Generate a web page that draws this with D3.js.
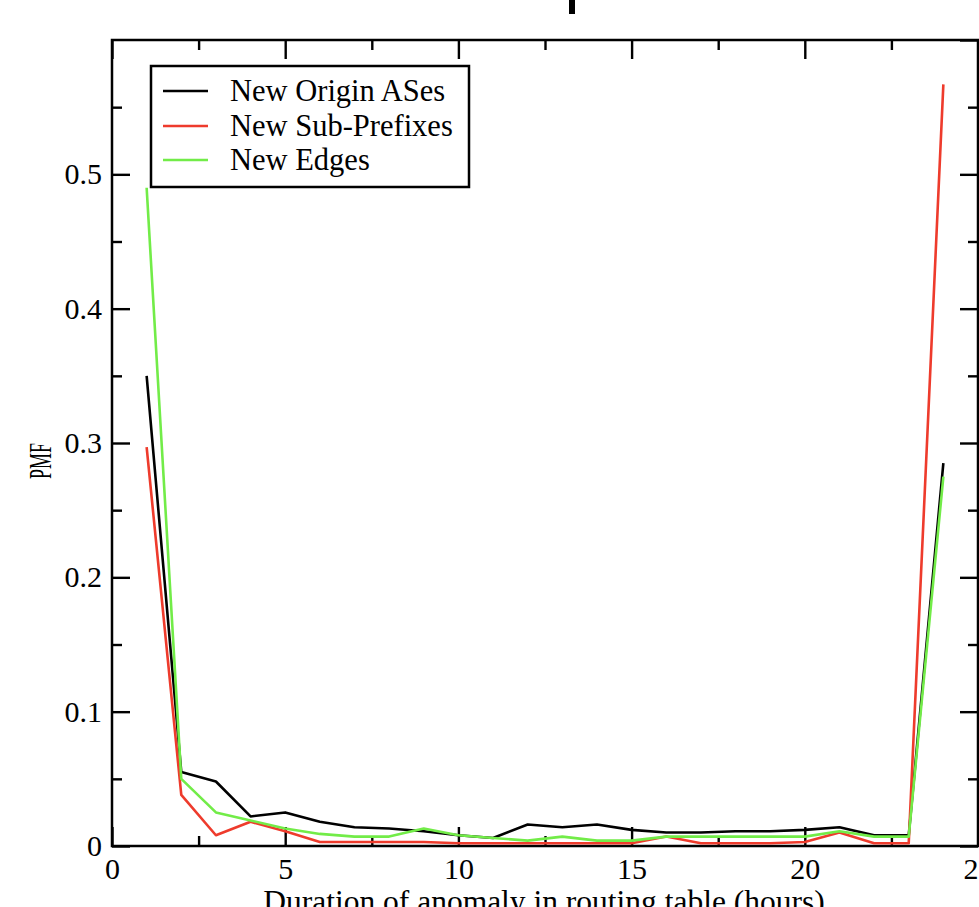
<!DOCTYPE html>
<html>
<head>
<meta charset="utf-8">
<script src="https://cdn.jsdelivr.net/npm/d3@7"></script>
<style>
body{margin:0;background:#fff;}
svg{display:block;}
text{font-family:"Liberation Serif","Times New Roman",serif;fill:#000;}
</style>
</head>
<body>
<div id="chart"></div>
<script>
// hours 1..24
var hours=[1,2,3,4,5,6,7,8,9,10,11,12,13,14,15,16,17,18,19,20,21,22,23,24];
var originASes=[0.350,0.055,0.048,0.022,0.025,0.018,0.014,0.013,0.011,0.008,0.006,0.016,0.014,0.016,0.012,0.010,0.010,0.011,0.011,0.012,0.014,0.008,0.008,0.285];
var subPrefixes=[0.297,0.038,0.008,0.018,0.011,0.003,0.003,0.003,0.003,0.002,0.002,0.002,0.002,0.002,0.002,0.007,0.002,0.002,0.002,0.003,0.010,0.002,0.002,0.567];
var newEdges=[0.490,0.050,0.025,0.019,0.013,0.009,0.007,0.007,0.013,0.008,0.006,0.004,0.007,0.004,0.004,0.007,0.007,0.007,0.007,0.007,0.011,0.007,0.007,0.275];
var seriesNames=['New Origin ASes','New Sub-Prefixes','New Edges'];
var seriesColors=['#000000','#ee3b2c','#72ec48'];
var xMajor=[0,5,10,15,20,25];
var xMinor=[2.5,7.5,12.5,17.5,22.5];
var yMajor=[0,0.1,0.2,0.3,0.4,0.5,0.6];
var yMinor=[0.05,0.15,0.25,0.35,0.45,0.55];

var width=979,height=907;
var plotLeft=112,plotRight=978,plotTop=40,plotBottom=846;

var svg=d3.select('#chart').append('svg')
    .attr('width',width)
    .attr('height',height);

var x=d3.scaleLinear().domain([0,25]).range([plotLeft,plotRight]);
var y=d3.scaleLinear().domain([0,0.6]).range([plotBottom,plotTop]);

// piece of a cut-off title above the plot
svg.append('rect')
    .attr('x',569).attr('y',0)
    .attr('width',6).attr('height',14)
    .style('fill','#000');

function styleAxis(g){
    g.select('.domain').remove();
    g.selectAll('line').style('stroke','#000').style('stroke-width',2.4);
    g.selectAll('text').style('font-family','"Liberation Serif","Times New Roman",serif')
        .style('font-size','30px').style('fill','#000');
}

// bottom
svg.append('g').attr('transform','translate(0,'+plotBottom+')')
    .call(d3.axisBottom(x).tickValues(xMajor).tickSizeInner(-19).tickSizeOuter(0).tickPadding(12).tickFormat(d3.format('d')))
    .call(styleAxis);
svg.append('g').attr('transform','translate(0,'+plotBottom+')')
    .call(d3.axisBottom(x).tickValues(xMinor).tickSizeInner(-10).tickSizeOuter(0).tickFormat(''))
    .call(styleAxis);
// top
svg.append('g').attr('transform','translate(0,'+plotTop+')')
    .call(d3.axisTop(x).tickValues(xMajor).tickSizeInner(-19).tickSizeOuter(0).tickFormat(''))
    .call(styleAxis);
svg.append('g').attr('transform','translate(0,'+plotTop+')')
    .call(d3.axisTop(x).tickValues(xMinor).tickSizeInner(-10).tickSizeOuter(0).tickFormat(''))
    .call(styleAxis);
// left
svg.append('g').attr('transform','translate('+plotLeft+',0)')
    .call(d3.axisLeft(y).tickValues(yMajor.slice(0,6)).tickSizeInner(-18).tickSizeOuter(0).tickPadding(10)
        .tickFormat(function(d){return d==0?'0':d3.format('.1f')(d);}))
    .call(styleAxis);
svg.append('g').attr('transform','translate('+plotLeft+',0)')
    .call(d3.axisLeft(y).tickValues(yMinor).tickSizeInner(-10).tickSizeOuter(0).tickFormat(''))
    .call(styleAxis);
// right
svg.append('g').attr('transform','translate('+plotRight+',0)')
    .call(d3.axisRight(y).tickValues(yMajor).tickSizeInner(-18).tickSizeOuter(0).tickFormat(''))
    .call(styleAxis);
svg.append('g').attr('transform','translate('+plotRight+',0)')
    .call(d3.axisRight(y).tickValues(yMinor).tickSizeInner(-10).tickSizeOuter(0).tickFormat(''))
    .call(styleAxis);

// frame
svg.append('rect')
    .attr('x',plotLeft).attr('y',plotTop)
    .attr('width',plotRight-plotLeft).attr('height',plotBottom-plotTop)
    .style('fill','none').style('stroke','#000').style('stroke-width',2.5);

// lines
var line=d3.line()
    .x(function(d){return x(d[0]);})
    .y(function(d){return y(d[1]);});

[originASes,subPrefixes,newEdges].forEach(function(vals,i){
    svg.append('path')
        .datum(hours.map(function(h,j){return [h,vals[j]];}))
        .attr('d',line)
        .style('fill','none')
        .style('stroke',seriesColors[i])
        .style('stroke-width',2.6)
        .style('stroke-linejoin','round');
});

// axis titles
svg.append('text')
    .attr('x',544).attr('y',912)
    .attr('text-anchor','middle')
    .style('font-size','31.5px')
    .text('Duration of anomaly in routing table (hours)');

svg.append('text')
    .attr('transform','translate(51,461) rotate(-90) scale(1,1.8)')
    .attr('text-anchor','middle')
    .style('font-size','18px')
    .text('PMF');

// legend
var legend=svg.append('g');
legend.append('rect')
    .attr('x',151).attr('y',66)
    .attr('width',318).attr('height',121)
    .style('fill','#fff').style('stroke','#000').style('stroke-width',2.5);
var rowY=[91,126,160];
seriesNames.forEach(function(name,i){
    legend.append('line')
        .attr('x1',163).attr('x2',208)
        .attr('y1',rowY[i]).attr('y2',rowY[i])
        .style('stroke',seriesColors[i]).style('stroke-width',2.5);
    legend.append('text')
        .attr('x',230).attr('y',rowY[i])
        .attr('dy','0.33em')
        .style('font-size','30.5px')
        .text(name);
});
</script>
</body>
</html>
